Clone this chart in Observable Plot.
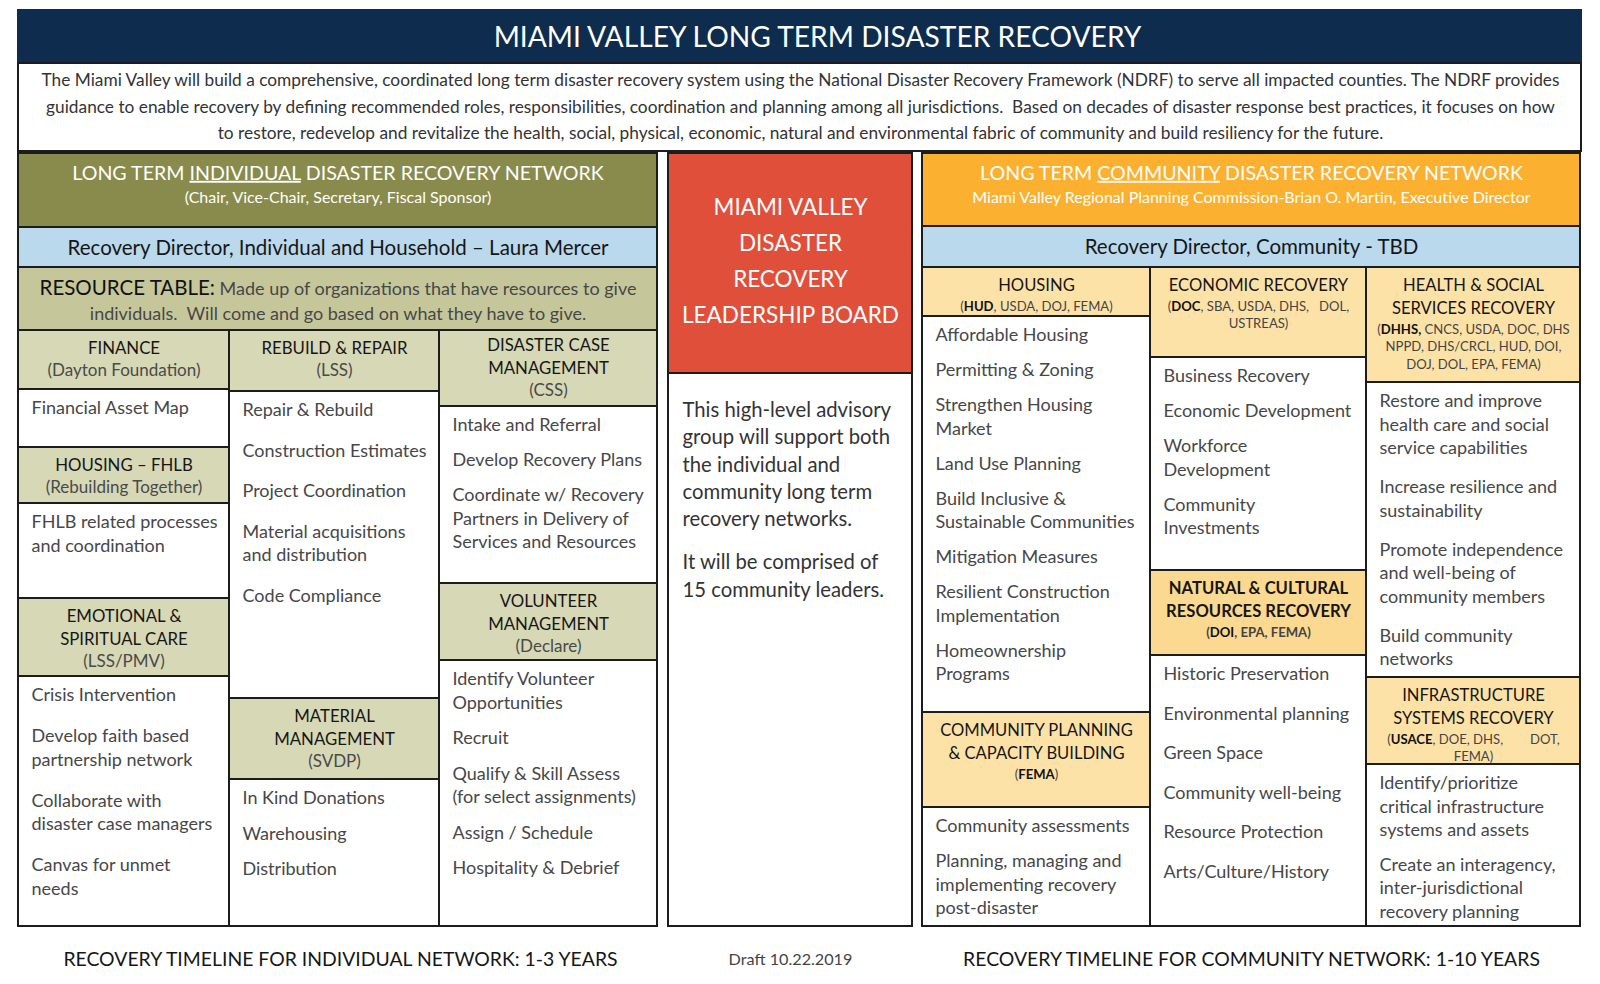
<!DOCTYPE html>
<html><head><meta charset="utf-8">
<script src="https://cdn.jsdelivr.net/npm/d3@7"></script>
<script src="https://cdn.jsdelivr.net/npm/@observablehq/plot@0.6"></script>
<style>
html,body{margin:0;padding:0;background:#fff;}
svg text{white-space:pre;}
</style></head><body><div id="chart"></div>
<script>
// ================= DATA =================
const mainTitle = "MIAMI VALLEY LONG TERM DISASTER RECOVERY";
const introLines = [
  "The Miami Valley will build a comprehensive, coordinated long term disaster recovery system using the National Disaster Recovery Framework (NDRF) to serve all impacted counties. The NDRF provides",
  "guidance to enable recovery by defining recommended roles, responsibilities, coordination and planning among all jurisdictions.  Based on decades of disaster response best practices, it focuses on how",
  "to restore, redevelop and revitalize the health, social, physical, economic, natural and environmental fabric of community and build resiliency for the future."
];
const individualNetwork = ["LONG TERM _INDIVIDUAL_ DISASTER RECOVERY NETWORK", "(Chair, Vice-Chair, Secretary, Fiscal Sponsor)"];
const individualDirector = "Recovery Director, Individual and Household – Laura Mercer";
const resourceTable = ["^RESOURCE TABLE:^ Made up of organizations that have resources to give", "individuals.  Will come and go based on what they have to give."];
const individualGroups = [
  {name:["FINANCE"], org:["(Dayton Foundation)"], items:["Financial Asset Map"]},
  {name:["HOUSING – FHLB"], org:["(Rebuilding Together)"], items:["FHLB related processes\nand coordination"]},
  {name:["EMOTIONAL &","SPIRITUAL CARE"], org:["(LSS/PMV)"], items:["Crisis Intervention","Develop faith based\npartnership network","Collaborate with\ndisaster case managers","Canvas for unmet\nneeds"]},
  {name:["REBUILD & REPAIR"], org:["(LSS)"], items:["Repair & Rebuild","Construction Estimates","Project Coordination","Material acquisitions\nand distribution","Code Compliance"]},
  {name:["MATERIAL","MANAGEMENT"], org:["(SVDP)"], items:["In Kind Donations","Warehousing","Distribution"]},
  {name:["DISASTER CASE","MANAGEMENT"], org:["(CSS)"], items:["Intake and Referral","Develop Recovery Plans","Coordinate w/ Recovery\nPartners in Delivery of\nServices and Resources"]},
  {name:["VOLUNTEER","MANAGEMENT"], org:["(Declare)"], items:["Identify Volunteer\nOpportunities","Recruit","Qualify & Skill Assess\n(for select assignments)","Assign / Schedule","Hospitality & Debrief"]}
];
const boardTitle = ["MIAMI VALLEY","DISASTER","RECOVERY","LEADERSHIP BOARD"];
const boardText = [
  ["This high-level advisory","group will support both","the individual and","community long term","recovery networks."],
  ["It will be comprised of","15 community leaders."]
];
const communityNetwork = ["LONG TERM _COMMUNITY_ DISASTER RECOVERY NETWORK", "Miami Valley Regional Planning Commission-Brian O. Martin, Executive Director"];
const communityDirector = "Recovery Director, Community - TBD";
const communityGroups = [
  {name:["HOUSING"], org:["(*HUD*, USDA, DOJ, FEMA)"], items:["Affordable Housing","Permitting & Zoning","Strengthen Housing\nMarket","Land Use Planning","Build Inclusive &\nSustainable Communities","Mitigation Measures","Resilient Construction\nImplementation","Homeownership\nPrograms"]},
  {name:["COMMUNITY PLANNING","& CAPACITY BUILDING"], org:["(*FEMA*)"], items:["Community assessments","Planning, managing and\nimplementing recovery\npost-disaster"]},
  {name:["ECONOMIC RECOVERY"], org:["(*DOC*, SBA, USDA, DHS,   DOL,","USTREAS)"], items:["Business Recovery","Economic Development","Workforce\nDevelopment","Community\nInvestments"]},
  {name:["NATURAL & CULTURAL","RESOURCES RECOVERY"], org:["(*DOI*, EPA, FEMA)"], items:["Historic Preservation","Environmental planning","Green Space","Community well-being","Resource Protection","Arts/Culture/History"]},
  {name:["HEALTH & SOCIAL","SERVICES RECOVERY"], org:["(*DHHS,* CNCS, USDA, DOC, DHS","NPPD, DHS/CRCL, HUD, DOI,","DOJ, DOL, EPA, FEMA)"], items:["Restore and improve\nhealth care and social\nservice capabilities","Increase resilience and\nsustainability","Promote independence\nand well-being of\ncommunity members","Build community\nnetworks"]},
  {name:["INFRASTRUCTURE","SYSTEMS RECOVERY"], org:["(*USACE*, DOE, DHS,        DOT,","FEMA)"], items:["Identify/prioritize\ncritical infrastructure\nsystems and assets","Create an interagency,\ninter-jurisdictional\nrecovery planning"]}
];
const footerNotes = ["RECOVERY TIMELINE FOR INDIVIDUAL NETWORK: 1-3 YEARS", "Draft 10.22.2019", "RECOVERY TIMELINE FOR COMMUNITY NETWORK: 1-10 YEARS"];

// ================= STYLE & LAYOUT =================
const W = 1600, H = 984;
const C = {navy:"#0d2c4e", olive:"#898b4d", blue:"#bad9ec", resource:"#c5c79b", khaki:"#d6d8b6",
  red:"#e04f3a", orange:"#fbb12f", peach:"#fde2a8", peachStrong:"#fcd991",
  ink:"#161616", body:"#474747", sub:"#4a4a4a", white:"#ffffff", line:"#1c1c1c"};
const F = {title:28.2, intro:17.3, net:19.6, netSub:16, director:20.5, resource:18, resourceLead:20.5, grpName:16.8, grpOrg:17,
  rName:16.6, rOrg:13.1, item:18, board:22.5, boardText:20.3, footer:19.4, draft:16.2};
const L = {
  frame:{x1:18, x2:1581},
  title:{y1:10, y2:63, x:817, y:37},
  intro:{y1:63, y2:151, x:800, y0:80, lh:26.5},
  top:153, bottom:926,
  left:{cols:[18,229,439,657], header:[153,227], director:[227,267], resource:[267,330], headY:[173,197], dirY:248, resY:[289,314]},
  mid:{x1:668, x2:912, split:373, titleY0:207, titleLh:36, textY0:410, textLh:27.3, paraGap:43, pad:14},
  right:{cols:[922,1150,1366,1580], header:[153,226], director:[226,267], headY:[173,197], dirY:247},
  itemPad:13, itemTop:19, itemLh:23.5,
  footerY:959, footerX:[340,790,1251]
};
// per group: column, header top, body top, body bottom, gap between items, header pad
const individualLayout = [
  {col:0, y1:330, y2:389, y3:447, gap:40},
  {col:0, y1:447, y2:503, y3:598, gap:40},
  {col:0, y1:598, y2:676, y3:926, gap:41},
  {col:1, y1:330, y2:391, y3:698, gap:40.5},
  {col:1, y1:698, y2:779, y3:926, gap:35.5},
  {col:2, y1:330, y2:406, y3:583, gap:35, pad:15},
  {col:2, y1:583, y2:660, y3:926, gap:35.5}
];
const communityLayout = [
  {col:0, y1:267, y2:316, y3:712, gap:35},
  {col:0, y1:712, y2:807, y3:926, gap:35},
  {col:1, y1:267, y2:357, y3:570, gap:35},
  {col:1, y1:570, y2:655, y3:926, gap:39.5, strong:true},
  {col:2, y1:267, y2:382, y3:677, gap:39},
  {col:2, y1:677, y2:764, y3:926, gap:34.5}
];

// ================= BUILD =================
const rects = [];
const box = (x1, x2, y1, y2, fill, stroke = C.line) => rects.push({x1, x2, y1, y2, fill, stroke});
const lines = [];
const put = (x, y, text, o = {}) => lines.push({x, y, text, size:o.size ?? F.item, fill:o.fill ?? C.body, weight:o.weight ?? "normal", anchor:o.anchor ?? "middle"});

// title + intro
box(L.frame.x1, L.frame.x2, L.title.y1, L.title.y2, C.navy, C.navy);
put(L.title.x, L.title.y, mainTitle, {size:F.title, fill:C.white});
box(L.frame.x1, L.frame.x2, L.intro.y1, L.intro.y2, C.white);
introLines.forEach((t, i) => put(L.intro.x, L.intro.y0 + i * L.intro.lh, t, {size:F.intro, fill:"#333"}));

// network sections
function section(S, netText, netFill, director, groups, layout, right) {
  const [x1, , , x2] = S.cols;
  const cx = (x1 + x2) / 2;
  box(x1, x2, L.top, L.bottom, C.white);
  box(x1, x2, S.header[0], S.header[1], netFill);
  put(cx, S.headY[0], netText[0], {size:F.net, fill:C.white});
  put(cx, S.headY[1], netText[1], {size:F.netSub, fill:C.white});
  box(x1, x2, S.director[0], S.director[1], C.blue);
  put(cx, S.dirY, director, {size:F.director, fill:C.ink});
  groups.forEach((g, i) => {
    const lay = layout[i];
    const gx1 = S.cols[lay.col], gx2 = S.cols[lay.col + 1], gcx = (gx1 + gx2) / 2;
    box(gx1, gx2, lay.y1, lay.y2, right ? (lay.strong ? C.peachStrong : C.peach) : C.khaki);
    box(gx1, gx2, lay.y2, lay.y3, C.white);
    let y = lay.y1 + (lay.pad ?? (right ? 18.5 : 18));
    const w = lay.strong ? "bold" : "normal";
    g.name.forEach((t) => { put(gcx, y, t, {size: right ? F.rName : F.grpName, fill:C.ink, weight:w}); y += 23; });
    if (right) y -= 2.5; else y -= 0.5;
    g.org.forEach((t) => { put(gcx, y, t, {size: right ? F.rOrg : F.grpOrg, fill: right ? "#444" : C.sub, weight:w}); y += right ? 17.5 : 22.5; });
    let iy = lay.y2 + L.itemTop;
    g.items.forEach(item => {
      const parts = item.split("\n");
      parts.forEach((t, k) => put(gx1 + L.itemPad, iy + k * L.itemLh, t, {anchor:"start"}));
      iy += (parts.length - 1) * L.itemLh + lay.gap;
    });
  });
}
section(L.left, individualNetwork, C.olive, individualDirector, individualGroups, individualLayout, false);
box(L.left.cols[0], L.left.cols[3], L.left.resource[0], L.left.resource[1], C.resource);
resourceTable.forEach((t, i) => put((L.left.cols[0] + L.left.cols[3]) / 2, L.left.resY[i], t, {size:F.resource, fill:C.body}));
section(L.right, communityNetwork, C.orange, communityDirector, communityGroups, communityLayout, true);

// middle board
const M = L.mid, mcx = (M.x1 + M.x2) / 2;
box(M.x1, M.x2, L.top, M.split, C.red);
box(M.x1, M.x2, M.split, L.bottom, C.white);
boardTitle.forEach((t, i) => put(mcx, M.titleY0 + i * M.titleLh, t, {size:F.board, fill:C.white}));
let by = M.textY0;
boardText.forEach(par => {
  par.forEach((t, k) => put(M.x1 + M.pad, by + k * M.textLh, t, {size:F.boardText, fill:"#333", anchor:"start"}));
  by += (par.length - 1) * M.textLh + M.paraGap;
});

// footer
footerNotes.forEach((t, i) => put(L.footerX[i], L.footerY, t, {size: i === 1 ? F.draft : F.footer, fill: i === 1 ? "#444" : C.ink}));

// ================= PLOT =================
const textMarks = d3.groups(lines, d => d.anchor + "|" + d.weight).map(([, arr]) =>
  Plot.text(arr, {x:"x", y:"y", text:"text", fontSize:d => d.size, fill:d => d.fill,
    textAnchor:arr[0].anchor, fontWeight:arr[0].weight}));

const svg = Plot.plot({
  width:W, height:H, margin:0,
  x:{domain:[0, W], range:[0, W], axis:null},
  y:{domain:[0, H], range:[0, H], axis:null},
  color:{type:"identity"},
  style:{fontFamily:"Lato, 'Open Sans', sans-serif", background:"#fff"},
  marks:[
    Plot.rect(rects, {x1:"x1", x2:"x2", y1:"y1", y2:"y2", fill:d => d.fill, stroke:d => d.stroke, strokeWidth:2}),
    ...textMarks
  ]
});
document.getElementById("chart").appendChild(svg);

// inline emphasis: *bold*, _underline_, ^larger dark^
const NS = "http://www.w3.org/2000/svg";
svg.querySelectorAll("text").forEach(t => {
  const s = t.textContent;
  if (!/[*_^]/.test(s)) return;
  const parts = s.split(/(\*[^*]+\*|_[^_]+_|\^[^^]+\^)/).filter(p => p);
  t.textContent = "";
  parts.forEach(p => {
    const ts = document.createElementNS(NS, "tspan");
    const m = p[0];
    if (m === "*" || m === "_" || m === "^") {
      ts.textContent = p.slice(1, -1);
      if (m === "*") { ts.setAttribute("font-weight", "bold"); ts.setAttribute("fill", "#111"); }
      if (m === "_") ts.setAttribute("text-decoration", "underline");
      if (m === "^") { ts.setAttribute("font-size", String(F.resourceLead)); ts.setAttribute("fill", "#111"); }
    } else ts.textContent = p;
    t.appendChild(ts);
  });
});
</script></body></html>
